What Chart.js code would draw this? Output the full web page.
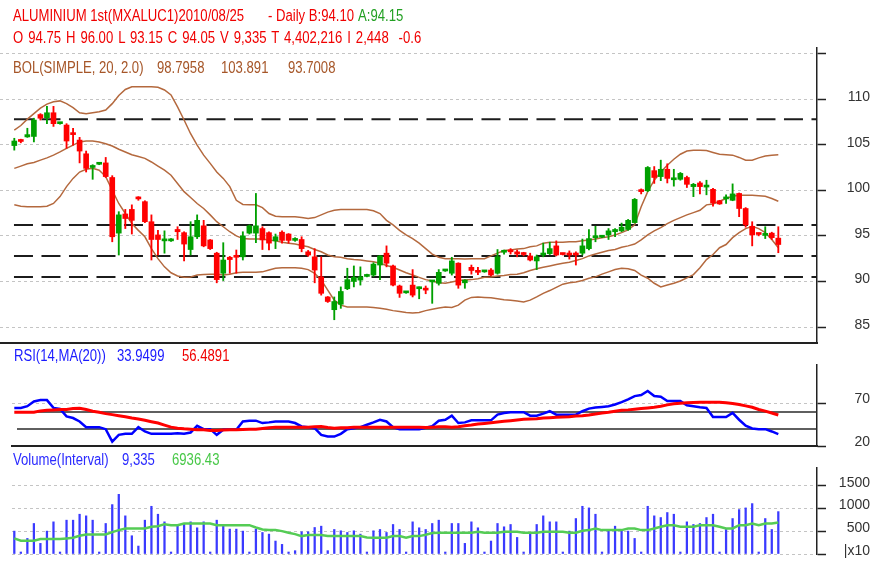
<!DOCTYPE html>
<html>
<head>
<meta charset="utf-8">
<script src="https://cdn.jsdelivr.net/npm/chart.js@4.4.1/dist/chart.umd.min.js"></script>
<style>
  html, body { margin: 0; padding: 0; background: #fff; }
  #wrap { position: relative; width: 877px; height: 561px; overflow: hidden; }
  canvas { position: absolute; left: 0; }
  .lbl {
    position: absolute;
    font-family: 'Liberation Sans', Arial, sans-serif;
    font-size: 16px;
    line-height: 18px;
    white-space: pre;
    transform: scaleX(0.82);
    transform-origin: 0 0;
  }
</style>
</head>
<body>
<div id="wrap">
  <canvas id="price" width="877" height="357" style="top:0;width:877px;height:357px"></canvas>
  <canvas id="rsi" width="877" height="115" style="top:345px;width:877px;height:115px"></canvas>
  <canvas id="vol" width="877" height="118" style="top:450px;width:877px;height:118px"></canvas>

  <div class="lbl" style="left:13px;top:7px;color:#f00000">ALUMINIUM 1st(MXALUC1)2010/08/25</div>
  <div class="lbl" style="left:268px;top:7px;color:#f00000">- Daily B:94.10</div>
  <div class="lbl" style="left:358px;top:7px;color:#22a022">A:94.15</div>
  <div class="lbl" style="left:13px;top:29px;color:#f00000;word-spacing:1.6px">O 94.75 H 96.00 L 93.15 C 94.05 V 9,335 T 4,402,216 I 2,448  -0.6</div>
  <div class="lbl" style="left:13px;top:59px;color:#a65628">BOL(SIMPLE, 20, 2.0)</div>
  <div class="lbl" style="left:157px;top:59px;color:#a65628">98.7958</div>
  <div class="lbl" style="left:221px;top:59px;color:#a65628">103.891</div>
  <div class="lbl" style="left:288px;top:59px;color:#a65628">93.7008</div>

  <div class="lbl" style="left:14px;top:347px;color:#1a1aff">RSI(14,MA(20))</div>
  <div class="lbl" style="left:117px;top:347px;color:#1a1aff">33.9499</div>
  <div class="lbl" style="left:182px;top:347px;color:#f00000">56.4891</div>

  <div class="lbl" style="left:13px;top:451px;color:#2a2aff">Volume(Interval)</div>
  <div class="lbl" style="left:122px;top:451px;color:#2a2aff">9,335</div>
  <div class="lbl" style="left:172px;top:451px;color:#48c848">6936.43</div>
</div>

<script>
// ---- price (daily OHLC) ----
const open = [104.9,105.45,105.85,105.9,108.3,107.95,108.5,107.3,107.15,106.3,
  105.5,104.0,102.5,102.85,103.0,101.4,95.3,97.4,97.9,99.15,
  98.75,96.55,95.1,94.45,94.45,95.7,95.35,93.5,94.9,96.1,
  94.55,93.1,90.9,92.65,92.75,92.7,95.3,95.3,95.8,95.35,
  94.45,95.4,95.2,94.5,94.6,93.25,92.7,90.5,88.3,86.9,
  87.5,89.2,90.0,90.15,90.55,90.7,91.8,93.1,91.7,89.5,
  88.75,89.6,89.2,89.15,89.95,89.8,91.15,90.9,92.0,89.85,
  91.55,91.2,91.05,91.25,90.9,93.2,93.35,93.25,93.05,92.8,
  92.25,92.9,93.05,93.9,93.05,93.1,93.05,93.1,93.6,94.8,
  94.85,95.1,95.45,95.55,95.7,96.45,100.0,99.95,102.15,101.5,
  102.3,101.15,101.2,101.4,100.4,100.8,100.35,100.1,98.85,99.05,
  98.9,99.65,98.0,96.05,95.25,95.05,95.3,94.75];
const high = [105.7,105.6,106.8,107.9,108.4,109.2,109.2,107.4,107.3,106.8,
  105.8,104.3,102.8,103.0,103.6,101.6,97.65,97.9,98.4,99.3,
  98.85,97.3,95.6,95.55,94.7,96.0,95.45,96.55,97.3,96.7,
  94.6,93.2,94.25,92.75,93.45,95.45,96.2,99.65,96.0,95.45,
  95.2,95.55,95.25,94.8,94.9,93.4,93.6,92.7,88.35,88.3,
  89.4,91.45,91.7,91.6,90.8,92.05,92.85,93.9,91.8,89.6,
  88.9,91.3,89.4,89.5,90.1,91.3,91.3,92.65,92.05,90.2,
  91.8,91.55,91.2,91.4,93.5,93.45,93.6,93.45,93.2,93.1,
  92.9,94.2,94.3,94.45,93.1,93.35,93.25,94.65,95.7,96.05,
  95.0,95.8,95.8,96.4,96.8,99.1,100.15,102.6,102.6,103.3,
  102.9,102.3,101.95,101.55,100.75,100.95,101.1,100.2,98.9,99.5,
  100.7,99.7,98.1,96.55,95.3,96.0,95.4,96.0];
const low = [104.4,105.2,105.8,105.3,107.7,107.3,107.0,107.25,104.6,104.95,
  103.0,102.0,101.2,102.8,101.4,94.35,92.9,95.8,95.2,98.9,
  96.45,92.35,92.9,93.1,94.4,94.6,92.25,92.9,94.7,93.8,
  93.5,89.85,90.1,90.9,90.9,92.35,95.2,94.25,93.5,93.45,
  93.6,94.2,94.2,94.4,93.25,92.75,89.85,88.5,87.7,85.8,
  87.05,89.1,89.4,89.6,90.5,90.55,90.2,91.6,89.5,88.25,
  88.7,88.3,88.1,88.65,87.6,89.6,91.1,90.7,89.25,89.25,
  90.8,90.75,91.0,90.6,90.8,93.0,93.0,92.7,92.8,92.25,
  91.3,92.7,92.95,92.8,92.9,92.45,91.8,92.9,93.45,94.35,
  94.8,94.6,94.9,95.45,95.6,96.4,99.6,99.85,100.75,101.05,
  100.8,100.45,101.1,100.3,99.3,99.6,99.5,98.25,98.45,98.55,
  98.85,97.1,95.95,93.9,95.0,94.7,94.6,93.15];
const close = [105.4,105.35,106.1,107.7,107.9,108.5,107.3,107.35,105.4,106.1,
  104.3,102.4,102.7,102.95,101.5,94.9,97.3,96.9,96.7,99.05,
  96.55,94.6,94.6,94.55,94.55,95.45,94.1,94.9,96.7,93.9,
  93.6,90.2,92.35,92.4,92.65,95.0,96.1,96.1,94.55,94.2,
  94.9,94.5,94.5,94.6,93.6,92.9,91.25,88.7,87.8,87.8,
  88.9,90.2,90.45,90.5,90.65,91.9,92.8,92.0,89.6,88.7,
  88.85,88.5,89.35,89.05,90.05,91.0,91.25,92.25,89.6,90.15,
  91.2,91.0,91.15,90.7,92.7,93.3,93.25,93.0,92.95,92.35,
  92.7,93.0,93.6,92.9,92.95,92.9,92.9,93.9,94.7,94.95,
  94.95,95.55,95.7,95.95,96.7,99.0,99.85,102.5,101.4,102.3,
  101.3,101.25,101.85,100.65,100.65,100.4,100.45,98.6,98.5,99.15,
  99.6,98.0,96.2,95.1,95.15,95.15,94.8,94.05];

// ---- Bollinger (SIMPLE, 20, 2.0) ----
const bolUpper = [106.6,107.1,107.8,108.4,109.0,109.45,109.7,109.8,109.5,109.05,
  108.5,108.4,108.5,108.6,108.8,109.5,110.4,111.05,111.35,111.35,
  111.35,111.35,111.3,111.0,110.45,109.15,107.7,106.2,104.95,103.85,
  102.95,102.0,101.3,100.4,98.9,98.45,98.4,98.4,98.1,97.45,
  97.15,97.1,97.1,97.1,97.0,96.9,97.0,97.3,97.6,97.8,
  97.9,97.9,97.9,97.9,97.9,97.75,97.45,96.7,96.2,95.6,
  95.1,94.7,94.2,93.6,93.0,92.65,92.5,92.5,92.5,92.45,
  92.5,92.5,92.5,92.8,93.1,93.4,93.45,93.55,93.6,93.8,
  93.9,94.2,94.3,94.3,94.3,94.35,94.35,94.45,94.55,94.65,
  94.8,94.9,95.1,95.35,95.65,96.2,98.2,99.85,101.1,102.0,
  102.75,103.4,103.95,104.3,104.4,104.4,104.35,104.15,103.95,103.9,
  103.85,103.6,103.3,103.3,103.55,103.75,103.85,103.891];
const bolMid = [102.4,102.65,102.9,103.05,103.3,103.55,103.85,104.2,104.6,104.95,
  105.3,105.4,105.4,105.3,105.1,104.85,104.5,104.2,103.9,103.7,
  103.5,103.1,102.65,102.2,101.65,100.75,99.85,99.2,98.55,98.0,
  97.3,96.55,96.0,95.45,95.0,94.7,94.65,94.65,94.65,94.55,
  94.45,94.3,94.2,94.1,93.95,93.8,93.5,93.25,92.9,92.7,
  92.65,92.5,92.4,92.35,92.25,92.15,92.0,91.75,91.55,91.25,
  90.95,90.7,90.45,90.2,90.05,89.85,89.8,89.95,90.1,90.15,
  90.2,90.3,90.45,90.5,90.6,90.65,90.75,90.8,90.95,91.2,
  91.4,91.55,91.7,91.85,92.0,92.1,92.3,92.5,92.8,93.0,
  93.2,93.4,93.5,93.75,93.9,94.1,94.55,95.1,95.55,95.9,
  96.35,96.7,97.0,97.3,97.55,97.8,98.4,98.5,98.8,99.1,
  99.35,99.45,99.45,99.45,99.4,99.35,99.1,98.7958];
const bolLower = [98.4,98.25,98.2,98.2,98.2,98.25,98.55,99.3,100.4,101.3,
  102.0,102.3,102.4,102.2,101.5,100.0,98.55,97.45,96.35,95.6,
  94.9,93.6,92.5,91.6,90.95,90.6,90.45,90.5,90.7,90.75,
  90.8,90.8,90.7,90.8,90.95,91.0,91.0,91.0,91.05,91.25,
  91.45,91.5,91.5,91.5,91.45,91.3,90.9,90.15,89.05,87.95,
  87.4,87.2,87.2,87.2,87.2,87.15,87.05,86.95,86.8,86.7,
  86.6,86.55,86.6,86.8,86.95,87.1,87.2,87.15,87.4,87.95,
  88.25,88.3,88.25,88.2,88.1,88.0,87.95,87.85,87.75,87.95,
  88.3,88.7,89.0,89.35,89.7,89.85,89.95,90.1,90.35,90.5,
  90.8,91.05,91.3,91.45,91.4,91.2,90.7,90.35,89.8,89.4,
  89.6,89.8,90.05,90.4,90.75,91.5,92.4,92.95,93.7,94.05,
  94.8,95.35,95.8,96.05,95.8,95.35,94.6,93.7008];

// horizontal support / resistance levels
const levels = [107.8, 96.2, 92.8, 90.5];
const priceTicks = [85, 90, 95, 100, 105, 110, 115];

// ---- RSI(14) and its MA(20) ----
const rsi = [64.8,64.8,66.8,72.4,74.0,74.0,64.8,63.6,54.9,52.9,
  48.9,42.2,42.2,42.2,39.8,25.2,33.1,34.3,34.3,42.2,
  37.1,34.3,34.3,34.3,34.3,35.1,34.3,35.9,43.8,39.8,
  39.8,33.1,39.0,39.0,39.0,48.9,49.8,49.8,47.0,47.8,
  48.9,48.9,48.9,47.0,43.0,42.2,41.0,33.1,31.1,31.1,
  34.3,39.8,41.0,42.2,45.0,47.8,50.9,48.9,42.2,39.8,
  39.8,39.8,39.8,41.4,43.4,49.8,50.9,55.7,47.0,47.8,
  50.2,50.2,50.2,50.2,56.9,58.9,59.7,59.7,59.7,55.7,
  55.7,58.1,60.9,56.9,56.9,56.9,56.9,60.9,64.0,65.3,
  66.0,66.8,68.8,71.6,74.8,78.7,79.9,84.7,78.7,77.9,
  72.8,72.8,72.8,68.0,66.8,65.6,64.8,54.1,54.1,54.1,
  58.9,50.9,43.8,40.6,39.8,39.8,37.1,33.9499];
const rsiMa = [59.7,59.7,59.7,59.7,61.3,62.1,62.5,62.9,62.9,64.0,
  64.4,62.9,60.9,59.7,58.1,56.9,55.7,54.5,52.9,51.8,
  50.2,48.6,47.0,44.6,42.2,41.0,40.2,39.8,39.0,39.0,
  38.3,38.3,38.7,39.0,39.0,39.4,39.8,39.8,40.6,41.4,
  42.2,42.2,42.2,42.2,42.2,42.2,42.6,43.0,41.8,41.0,
  41.4,41.4,42.2,42.2,42.2,42.2,42.2,42.2,42.2,42.2,
  42.2,42.2,42.2,41.8,42.2,42.6,42.6,42.2,42.6,43.8,
  44.6,45.8,46.6,47.4,48.2,49.0,49.8,50.6,51.4,51.8,
  52.2,52.9,53.3,53.7,54.1,54.5,55.3,55.7,56.5,57.7,
  58.9,59.7,60.9,62.1,62.5,63.3,64.0,64.8,65.6,66.8,
  68.4,69.6,70.4,70.8,71.2,71.6,71.6,71.6,71.6,70.8,
  70.0,68.8,67.2,65.6,63.0,61.0,58.8,56.4891];
const rsiLevels = [60, 40];
const rsiTicks = [20, 70];

// ---- Volume (x10) and moving average ----
const volume = [504,44,343,672,234,504,708,44,745,745,
  876,840,745,44,672,1088,1314,840,402,175,
  745,1051,876,708,44,620,657,708,577,708,
  44,745,620,548,548,504,44,548,474,438,
  285,212,44,73,489,489,584,613,73,540,
  511,474,511,438,44,511,540,474,650,540,
  44,708,577,540,672,745,44,672,672,234,
  708,577,44,285,672,599,650,365,44,453,
  650,840,708,708,44,504,781,1051,1015,876,
  44,511,613,540,504,343,44,1051,840,803,
  913,876,44,708,650,672,803,876,44,540,
  781,978,1015,1110,44,781,540,933.5];
const volumeMa = [343,292,292,292,329,329,329,329,343,358,
  402,431,431,431,431,482,526,562,562,562,
  562,599,613,657,635,635,672,672,672,672,
  672,635,635,635,635,635,635,584,540,526,
  526,504,467,438,394,416,416,416,394,394,
  394,394,394,394,365,358,358,358,394,394,
  358,394,394,423,460,467,467,467,467,467,
  467,489,467,467,467,489,489,489,467,467,
  467,489,489,489,489,467,467,511,526,562,
  526,526,526,526,562,562,526,526,562,599,
  635,635,599,599,599,635,635,635,599,562,
  562,635,635,672,635,672,672,693.643];
const volumeTicks = [0, 500, 1000, 1500];

// ---------------- layout ----------------
const X0 = 14.3;      // pixel centre of the first session
const DX = 6.53;      // pixels per session
const AXIS_X = 817;   // right price axis
const xRange = (leftPx) => ({ min: (leftPx - X0) / DX, max: (AXIS_X - X0) / DX });
const FONT = 'Liberation Sans, Arial, sans-serif';
const GRID = '#c4c4c4';
const INK = '#222';

const pts = (arr) => arr.map((v, i) => ({ x: i, y: v }));
const span = (v, from, to) => [{ x: from, y: v }, { x: to, y: v }];
const candleColor = close.map((c, i) => (c >= open[i] ? '#00a000' : '#ff0000'));

function rightAxis(min, max, tickValues, labelOffset, label) {
    return {
        type: 'linear',
        position: 'right',
        min,
        max,
        afterBuildTicks(scale) {
            scale.ticks = tickValues.map((value) => ({ value }));
        },
        grid: {
            color: GRID,
            lineWidth: 1,
            tickColor: INK,
            tickWidth: 1.5,
            tickLength: 9,
            tickBorderDash: [],
        },
        border: { display: true, color: INK, width: 1.5, dash: [3, 3] },
        ticks: {
            crossAlign: 'far',
            color: '#333',
            font: { family: FONT, size: 14 },
            autoSkip: false,
            labelOffset,
            callback: label,
        },
        afterFit(scale) {
            scale.width = 53;
        },
    };
}

function bottomAxis(leftPx, showBorder) {
    return Object.assign({
        type: 'linear',
        offset: false,
        display: true,
        ticks: { display: false },
        grid: { display: true, drawOnChartArea: false, drawTicks: false, offset: false },
        border: { display: showBorder, color: INK, width: 2 },
    }, xRange(leftPx));
}

const common = {
    responsive: false,
    animation: false,
    events: [],
    plugins: { legend: { display: false }, tooltip: { enabled: false } },
};

// ---------------- price panel ----------------
const xp = xRange(0);
new Chart(document.getElementById('price'), {
    type: 'bar',
    data: {
        datasets: [
            ...levels.map((lv) => ({
                type: 'line',
                data: span(lv, -0.05, xp.max),
                borderColor: '#1c1c1c',
                borderWidth: 2,
                borderDash: [19, 8.5],
                pointRadius: 0,
                order: 6,
            })),
            ...[bolUpper, bolMid, bolLower].map((arr) => ({
                type: 'line',
                data: pts(arr),
                borderColor: '#b4693e',
                borderWidth: 1.5,
                pointRadius: 0,
                tension: 0,
                order: 4,
            })),
            {
                type: 'bar',
                data: low.map((l, i) => ({ x: i, y: [l, high[i]] })),
                backgroundColor: candleColor,
                barThickness: 1.2,
                grouped: false,
                order: 2,
            },
            {
                type: 'bar',
                data: open.map((o, i) => ({ x: i, y: [o, close[i]] })),
                backgroundColor: candleColor,
                barThickness: 5,
                minBarLength: 2,
                grouped: false,
                order: 1,
            },
        ],
    },
    options: {
        ...common,
        layout: { padding: { top: 48, bottom: 14, left: 0, right: 7 } },
        scales: {
            x: bottomAxis(0, true),
            y: rightAxis(83.25, 115.6, priceTicks, -2, (v) => (v > 112 ? '' : String(v))),
        },
    },
});

// ---------------- RSI panel ----------------
const xr = xRange(12);
new Chart(document.getElementById('rsi'), {
    type: 'line',
    data: {
        datasets: [
            ...rsiLevels.map((lv) => ({
                data: span(lv, 0.41, xr.max),
                borderColor: '#2a2a2a',
                borderWidth: 1.5,
                pointRadius: 0,
                order: 5,
            })),
            {
                data: pts(rsi),
                borderColor: '#0000ff',
                borderWidth: 2.5,
                pointRadius: 0,
                order: 2,
            },
            {
                data: pts(rsiMa),
                borderColor: '#ff0000',
                borderWidth: 3,
                pointRadius: 0,
                order: 1,
            },
        ],
    },
    options: {
        ...common,
        layout: { padding: { top: 20, bottom: 14, left: 12, right: 7 } },
        scales: {
            x: bottomAxis(12, true),
            y: rightAxis(20, 115.3, rsiTicks, -4, (v) => String(v)),
        },
    },
});

// ---------------- volume panel ----------------
new Chart(document.getElementById('vol'), {
    type: 'bar',
    data: {
        datasets: [
            {
                type: 'bar',
                data: pts(volume),
                backgroundColor: '#3a3aff',
                barThickness: 1.6,
                grouped: false,
                order: 2,
            },
            {
                type: 'line',
                data: pts(volumeMa),
                borderColor: '#55cc55',
                borderWidth: 2.5,
                pointRadius: 0,
                order: 1,
            },
        ],
    },
    options: {
        ...common,
        layout: { padding: { top: 18, bottom: 14, left: 12, right: 7 } },
        scales: {
            x: bottomAxis(12, false),
            y: rightAxis(0, 1894, volumeTicks, -3, (v) => (v === 0 ? '|x10' : String(v))),
        },
    },
});
</script>
</body>
</html>
